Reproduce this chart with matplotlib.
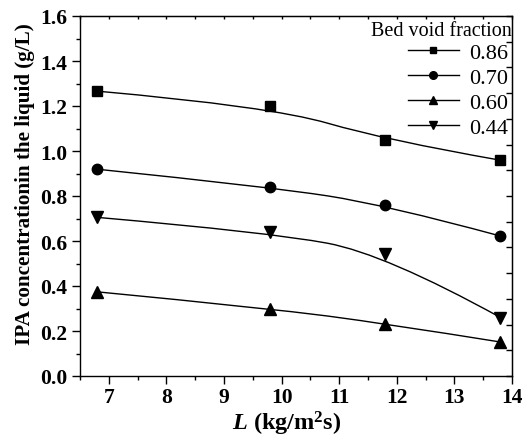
import matplotlib
matplotlib.use("Agg")
import numpy as np
import matplotlib.pyplot as plt
from matplotlib.path import Path
from matplotlib.patches import PathPatch
from matplotlib.lines import Line2D
from matplotlib.ticker import MultipleLocator, FixedLocator

plt.rcParams['font.family'] = ['Liberation Serif', 'DejaVu Serif']
plt.rcParams['mathtext.fontset'] = 'custom'
plt.rcParams['mathtext.rm'] = 'Liberation Serif:bold'
plt.rcParams['mathtext.it'] = 'Liberation Serif:italic:bold'
plt.rcParams['mathtext.bf'] = 'Liberation Serif:bold'

# liquid flux L (kg/m2 s)
L = [6.8, 9.8, 11.8, 13.8]

# IPA concentration (g/L) for each bed void fraction
void_fractions = ['0.86', '0.70', '0.60', '0.44']
c_086 = [1.266, 1.198, 1.049, 0.959]
c_070 = [0.919, 0.840, 0.761, 0.622]
c_060 = [0.374, 0.300, 0.233, 0.151]
c_044 = [0.705, 0.638, 0.542, 0.260]
markers = ['s', 'o', '^', 'v']
marker_sizes = [7, 7.5, 8, 8]


def bspline_path(x, y):
    # quadratic B-spline (Origin style): data points are the control points
    mx, my = (x[1] + x[2]) / 2, (y[1] + y[2]) / 2
    verts = [(x[0], y[0]), (x[1], y[1]), (mx, my), (x[2], y[2]), (x[3], y[3])]
    codes = [Path.MOVETO, Path.CURVE3, Path.CURVE3, Path.CURVE3, Path.CURVE3]
    return Path(verts, codes)


fig = plt.figure(figsize=(5.31, 4.39), dpi=100)
ax = fig.add_axes([80 / 531, 1 - 377 / 439, 432 / 531, 360 / 439])

handles = []
for vals, m, ms in zip([c_086, c_070, c_060, c_044], markers, marker_sizes):
    ax.add_patch(PathPatch(bspline_path(L, vals), facecolor='none',
                           edgecolor='black', lw=1.0))
    ax.plot(L, vals, linestyle='none', marker=m, color='black', ms=ms)
    handles.append(Line2D([], [], color='black', lw=1.0, marker=m, ms=ms - 2))

ax.set_xlim(6.5, 14)
ax.set_ylim(0, 1.6)
ax.xaxis.set_major_locator(MultipleLocator(1))
ax.xaxis.set_minor_locator(MultipleLocator(0.5))
ax.set_yticks([0, 0.2, 0.4, 0.6, 0.8, 1.0, 1.2, 1.4, 1.6])
ax.set_yticklabels(['%.1f' % v for v in ax.get_yticks()])
ax.yaxis.set_minor_locator(MultipleLocator(0.1))

ax.tick_params(which='both', direction='out', top=False, right=False,
               width=1.0, labelsize=15.5, pad=3)
ax.tick_params(which='major', length=6)
ax.tick_params(which='minor', length=3)
ax.tick_params(axis='x', pad=2)
for lbl in ax.get_xticklabels() + ax.get_yticklabels():
    lbl.set_fontweight('bold')

# small inward ticks on the top and right spines
top = ax.secondary_xaxis('top')
top.xaxis.set_major_locator(MultipleLocator(0.5))
top.tick_params(direction='in', length=2, width=1.0, labeltop=False)
right = ax.secondary_yaxis('right')
right.yaxis.set_major_locator(FixedLocator(np.linspace(0, 1.6, 15)))
right.tick_params(direction='in', length=4, width=1.0, labelright=False)
right.yaxis.set_minor_locator(FixedLocator([]))

for s in ax.spines.values():
    s.set_linewidth(1.0)

ax.set_xlabel(r'$\mathit{L}$ (kg/m$^{2}$s)', fontsize=17.5, fontweight='bold')
ax.xaxis.set_label_coords((287 - 80) / 432, -(424 - 377) / 360)
ax.set_ylabel('IPA concentrationin the liquid (g/L)', fontsize=15.2,
              fontweight='bold')
ax.yaxis.set_label_coords(-(80 - 25) / 432, (377 - 184) / 360)
ax.xaxis.label.set_va('center')
ax.yaxis.label.set_va('center')

ax.text(1.0, (377 - 31) / 360, 'Bed void fraction', transform=ax.transAxes,
        ha='right', va='center', fontsize=14.5)
ax.legend(handles, void_fractions, loc='upper right',
          bbox_to_anchor=(0.99, (377 - 43) / 360), frameon=False, fontsize=16,
          handlelength=2.3, handletextpad=0.45, labelspacing=0.2,
          borderaxespad=0, borderpad=0)

fig.savefig('out.png', dpi=100)
